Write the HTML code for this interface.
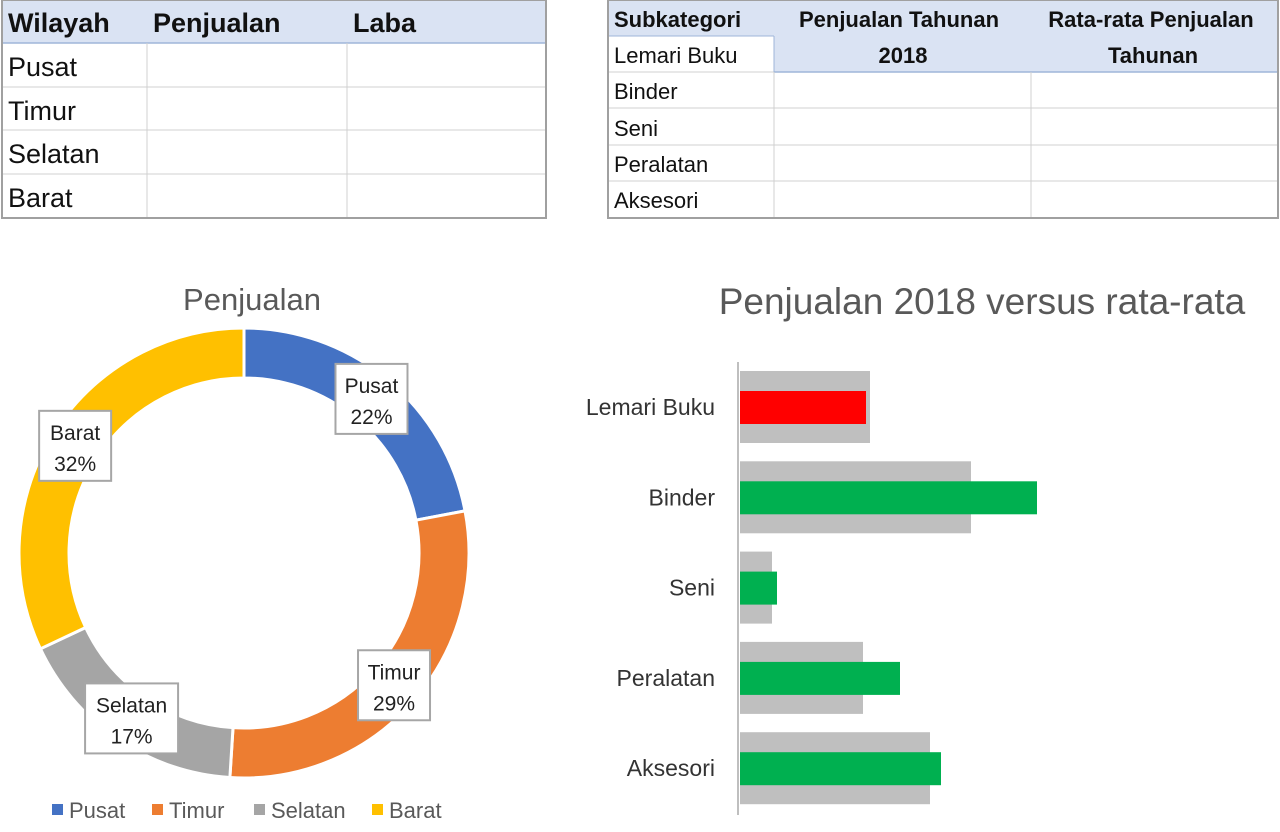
<!DOCTYPE html>
<html><head><meta charset="utf-8"><style>
body{margin:0;width:1280px;height:832px;background:#fff;overflow:hidden;font-family:"Liberation Sans",sans-serif;}
svg{position:absolute;left:0;top:0}
</style></head><body>
<svg id="s" width="1280" height="832" xmlns="http://www.w3.org/2000/svg" font-family="Liberation Sans, sans-serif">
<g>
 <rect x="2" y="0" width="544" height="43" fill="#dae3f3"/>
 <line x1="2" y1="43" x2="546" y2="43" stroke="#9fb6d9" stroke-width="1.5"/>
 <g stroke="#d0d0d0" stroke-width="1">
  <line x1="2" y1="87" x2="546" y2="87"/><line x1="2" y1="130" x2="546" y2="130"/><line x1="2" y1="174" x2="546" y2="174"/>
  <line x1="147" y1="43" x2="147" y2="218"/><line x1="347" y1="43" x2="347" y2="218"/>
 </g>
 <rect x="2" y="0" width="544" height="218" fill="none" stroke="#a0a0a0" stroke-width="2"/>
 <g font-size="27" fill="#111">
  <text x="8" y="32" font-weight="bold">Wilayah</text><text x="153" y="32" font-weight="bold">Penjualan</text><text x="353" y="32" font-weight="bold">Laba</text>
  <text x="8" y="76">Pusat</text><text x="8" y="120">Timur</text><text x="8" y="163">Selatan</text><text x="8" y="207">Barat</text>
 </g>
</g>
<g>
 <rect x="608" y="0" width="670" height="72" fill="#dae3f3"/>
 <rect x="608" y="36" width="166" height="36" fill="#fff"/>
 <line x1="774" y1="72" x2="1278" y2="72" stroke="#9fb6d9" stroke-width="1.5"/>
 <g stroke="#d0d0d0">
  <line x1="608" y1="108" x2="1278" y2="108"/><line x1="608" y1="145" x2="1278" y2="145"/><line x1="608" y1="181" x2="1278" y2="181"/><line x1="608" y1="72" x2="774" y2="72"/>
  <line x1="774" y1="72" x2="774" y2="218"/><line x1="1031" y1="72" x2="1031" y2="218"/>
 </g>
 <line x1="608" y1="36" x2="774" y2="36" stroke="#9fb6d9"/><line x1="774" y1="36" x2="774" y2="72" stroke="#9fb6d9"/>
 <rect x="608" y="0" width="670" height="218" fill="none" stroke="#a0a0a0" stroke-width="2"/>
 <g font-size="22" fill="#111">
  <text x="614" y="27" font-weight="bold">Subkategori</text>
  <text x="899" y="27" font-weight="bold" text-anchor="middle">Penjualan Tahunan</text>
  <text x="903" y="63" font-weight="bold" text-anchor="middle">2018</text>
  <text x="1151" y="27" font-weight="bold" text-anchor="middle">Rata-rata Penjualan</text>
  <text x="1153" y="63" font-weight="bold" text-anchor="middle">Tahunan</text>
  <text x="614" y="63">Lemari Buku</text><text x="614" y="99">Binder</text><text x="614" y="136">Seni</text><text x="614" y="172">Peralatan</text><text x="614" y="208">Aksesori</text>
 </g>
</g>
<text x="252" y="310" font-size="31" fill="#595959" text-anchor="middle">Penjualan</text>
<g id="donut"></g>
<g id="legend"></g>
<text x="982" y="314" font-size="37" fill="#595959" text-anchor="middle">Penjualan 2018 versus rata-rata</text>
<g id="bars"></g>
</svg>
<script>
const regions=["Pusat","Timur","Selatan","Barat"];
const shares=[22,29,17,32];
const sliceColors=["#4472c4","#ed7d31","#a5a5a5","#ffc000"];
const subcats=["Lemari Buku","Binder","Seni","Peralatan","Aksesori"];
const avgSales=[130,231,32,123,190];
const sales2018=[126,297,37,160,201];

const NS="http://www.w3.org/2000/svg";
function mk(t,a,p){const e=document.createElementNS(NS,t);for(const k in a)e.setAttribute(k,a[k]);p.appendChild(e);return e;}
const cx=244,cy=553,R=225,r=175;
const dg=document.getElementById('donut');
const total=shares.reduce((a,b)=>a+b,0);
let acc=0;
shares.forEach((v,i)=>{
 const a0=acc/total*2*Math.PI, a1=(acc+v)/total*2*Math.PI; acc+=v;
 const P=(rad,a)=>[cx+rad*Math.sin(a),cy-rad*Math.cos(a)];
 const large=(a1-a0)>Math.PI?1:0;
 const [x0,y0]=P(R,a0),[x1,y1]=P(R,a1),[x2,y2]=P(r,a1),[x3,y3]=P(r,a0);
 const p=mk('path',{d:`M${x0},${y0}A${R},${R} 0 ${large} 1 ${x1},${y1}L${x2},${y2}A${r},${r} 0 ${large} 0 ${x3},${y3}Z`,fill:sliceColors[i],stroke:'#fff','stroke-width':3},dg);
 
 
 const am=(a0+a1)/2;
 const [lx,ly]=P(200,am);
 const w=Math.max(72,regions[i].length*11+16);
 const g=mk('g',{},dg);
 
 
 mk('rect',{x:lx-w/2,y:ly-35,width:w,height:70,fill:'#fff',stroke:'#a6a6a6','stroke-width':2},g);
 const t1=mk('text',{x:lx,y:ly-6,'font-size':21,'text-anchor':'middle',fill:'#222'},g);t1.textContent=regions[i];
 const t2=mk('text',{x:lx,y:ly+25,'font-size':21,'text-anchor':'middle',fill:'#222'},g);t2.textContent=v+'%';
});
const lg=document.getElementById('legend');
const lx0=[52,152,254,372];
regions.forEach((n,i)=>{
 const g=mk('g',{},lg);
 
 
 mk('rect',{x:lx0[i],y:804,width:11,height:11,fill:sliceColors[i]},g);
 const t=mk('text',{x:lx0[i]+17,y:818,'font-size':22,fill:'#595959'},g);t.textContent=n;
});
const bg=document.getElementById('bars');
const x0=740, xs=v=>x0+v, yc=i=>407+i*90.3;
subcats.forEach((n,i)=>{
 const g1=mk('rect',{x:x0,y:yc(i)-36,width:xs(avgSales[i])-x0,height:72,fill:'#bfbfbf'},bg);
 
 
 const b=mk('rect',{x:x0,y:yc(i)-16,width:xs(sales2018[i])-x0,height:33,fill:sales2018[i]<avgSales[i]?'#ff0000':'#00b050'},bg);
 
 
 const t=mk('text',{x:715,y:yc(i)+8,'font-size':23,'text-anchor':'end',fill:'#333'},bg);t.textContent=n;
 
 
});
const ax=mk('line',{x1:738,y1:362,x2:738,y2:815,stroke:'#bfbfbf','stroke-width':2},bg);


</script>
</body></html>
